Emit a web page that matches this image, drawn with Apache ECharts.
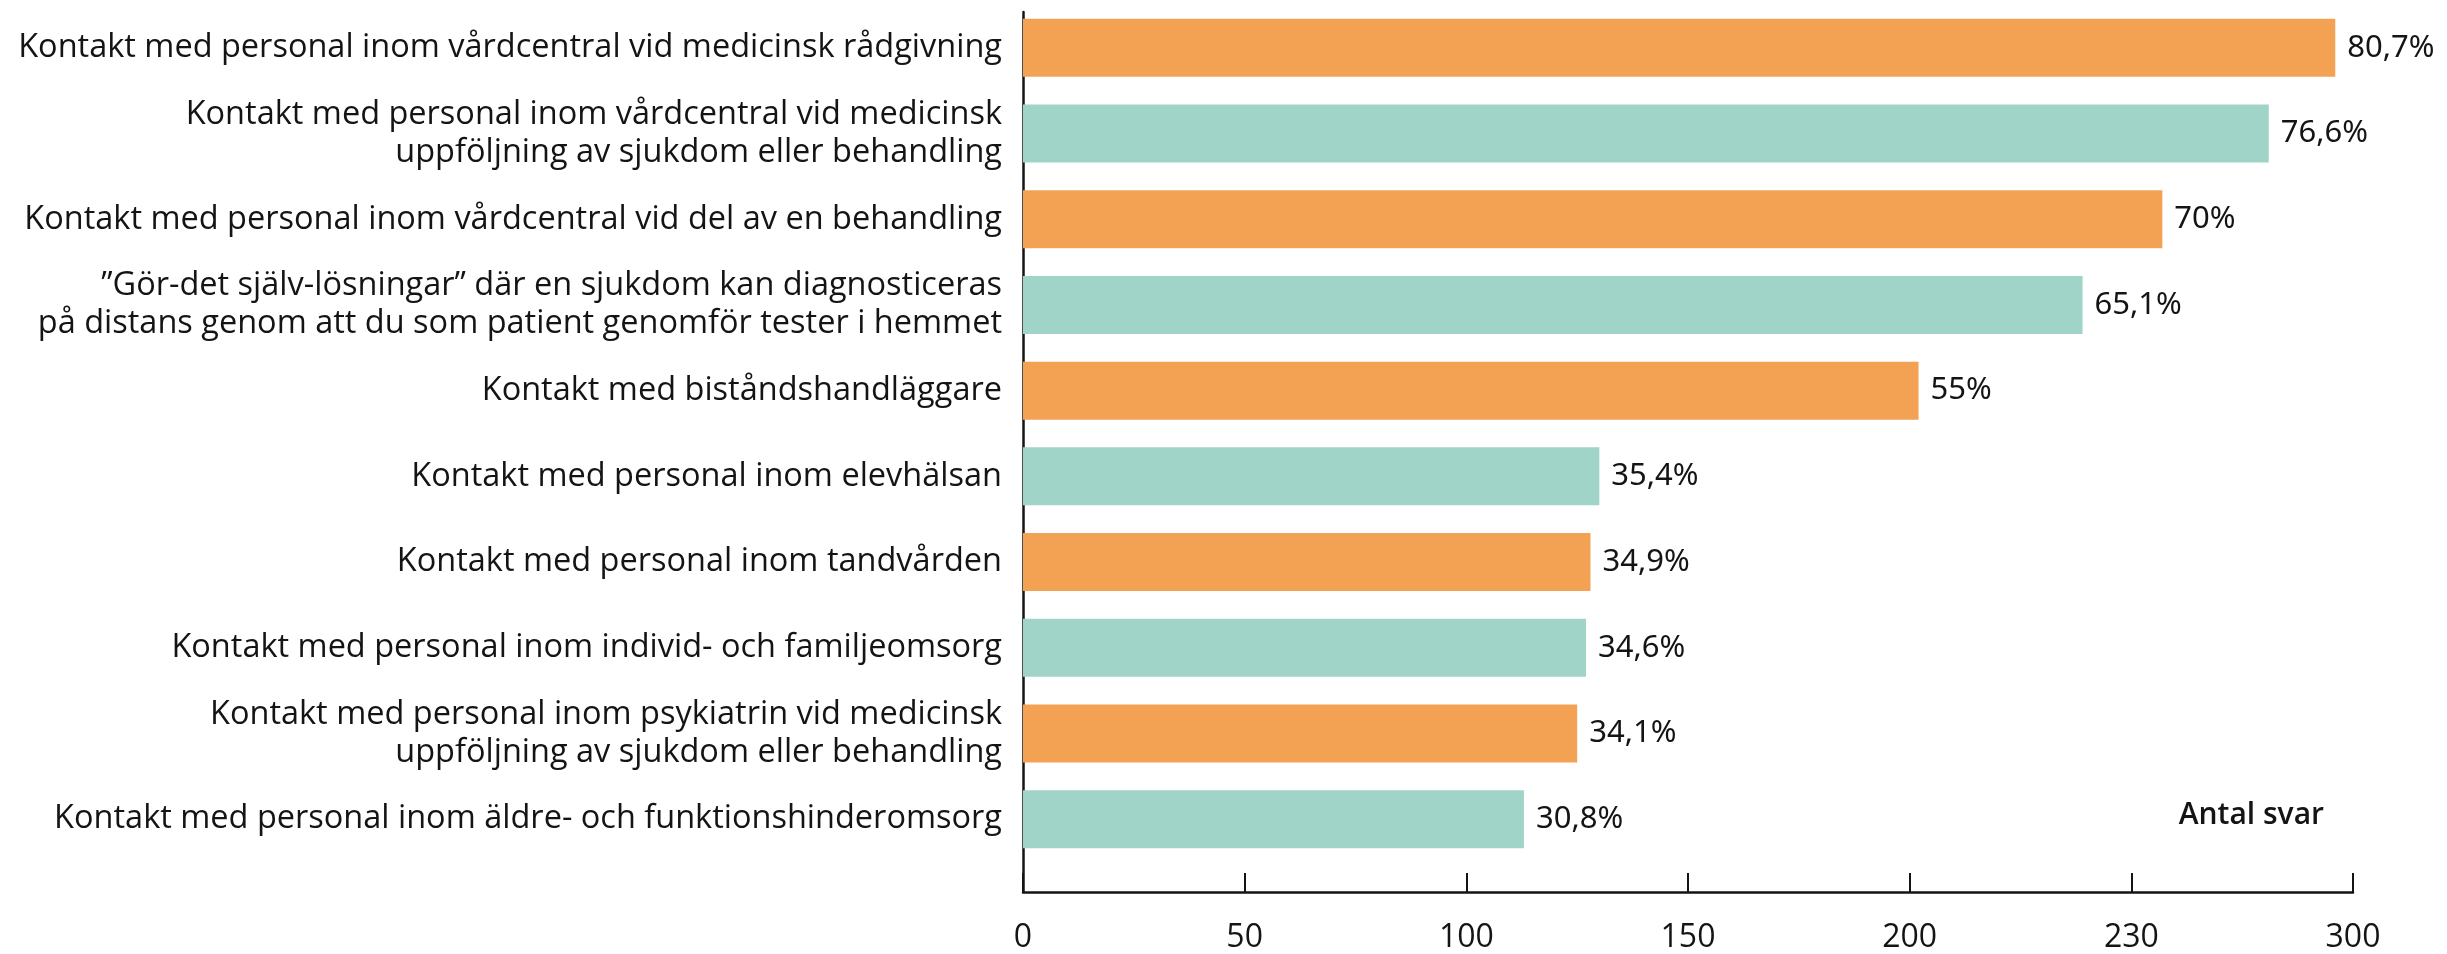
<!DOCTYPE html>
<html>
<head>
<meta charset="utf-8">
<script src="https://cdn.jsdelivr.net/npm/echarts@6/dist/echarts.min.js"></script>
<style>
  html, body { margin: 0; padding: 0; background: #fff; }
  #chart { width: 2447px; height: 954px; }
</style>
</head>
<body>
<div id="chart"></div>
<script>
// Categories, top to bottom
const categories = [
  "Kontakt med personal inom vårdcentral vid medicinsk rådgivning",
  "Kontakt med personal inom vårdcentral vid medicinsk\nuppföljning av sjukdom eller behandling",
  "Kontakt med personal inom vårdcentral vid del av en behandling",
  "\u201dGör-det själv-lösningar\u201d där en sjukdom kan diagnosticeras\npå distans genom att du som patient genomför tester i hemmet",
  "Kontakt med biståndshandläggare",
  "Kontakt med personal inom elevhälsan",
  "Kontakt med personal inom tandvården",
  "Kontakt med personal inom individ- och familjeomsorg",
  "Kontakt med personal inom psykiatrin vid medicinsk\nuppföljning av sjukdom eller behandling",
  "Kontakt med personal inom äldre- och funktionshinderomsorg"
];

// Number of answers (bar length)
const answers = [296, 281, 257, 239, 202, 130, 128, 127, 125, 113];

// Share shown as bar label
const percentLabels = ["80,7%", "76,6%", "70%", "65,1%", "55%", "35,4%", "34,9%", "34,6%", "34,1%", "30,8%"];

// x-axis tick labels (as printed, at 0, 50, ... 300)
const tickLabels = ["0", "50", "100", "150", "200", "230", "300"];

const ORANGE = "#F3A254";
const TEAL = "#A0D4C8";
const TEXT = "#141414";
const FONT = "'Open Sans', 'Noto Sans', sans-serif";

const chart = echarts.init(document.getElementById("chart"), null, { renderer: "canvas" });

chart.setOption({
  animation: false,
  backgroundColor: "#fff",
  title: {
    text: "Antal svar",
    right: 123,
    top: 800,
    padding: 0,
    textStyle: { fontFamily: FONT, fontSize: 30, fontWeight: 600, color: TEXT }
  },
  grid: [
    // bars + category labels
    { left: 1023, right: 94, top: 5, height: 857 },
    // axis lines + value ticks
    { left: 1023, right: 94, top: 12, bottom: 59 }
  ],
  xAxis: [
    {
      gridIndex: 0,
      type: "value",
      min: 0,
      max: 300,
      show: false
    },
    {
      gridIndex: 1,
      type: "value",
      min: 0,
      max: 300,
      interval: 50,
      axisLine: { show: true, lineStyle: { color: TEXT, width: 2.5 } },
      axisTick: { show: true, inside: true, length: 19, lineStyle: { color: TEXT, width: 2 } },
      splitLine: { show: false },
      axisLabel: {
        margin: 30,
        fontFamily: FONT,
        fontSize: 32,
        color: TEXT,
        formatter: (v) => tickLabels[Math.round(v / 50)] ?? ""
      }
    }
  ],
  yAxis: [
    {
      gridIndex: 0,
      type: "category",
      inverse: true,
      data: categories,
      axisLine: { show: false },
      axisTick: { show: false },
      axisLabel: {
        margin: 21,
        fontFamily: FONT,
        fontSize: 32.5,
        lineHeight: 38,
        color: TEXT,
        align: "right"
      }
    },
    {
      gridIndex: 1,
      type: "value",
      min: 0,
      max: 1,
      axisLine: { show: true, lineStyle: { color: TEXT, width: 2.5 } },
      axisTick: { show: false },
      axisLabel: { show: false },
      splitLine: { show: false }
    }
  ],
  series: [
    {
      type: "bar",
      xAxisIndex: 0,
      yAxisIndex: 0,
      data: answers,
      barWidth: 58,
      itemStyle: {
        color: (p) => (p.dataIndex % 2 === 0 ? ORANGE : TEAL)
      },
      label: {
        show: true,
        position: "right",
        distance: 12,
        fontFamily: "'Noto Sans', sans-serif",
        fontSize: 31,
        color: TEXT,
        formatter: (p) => percentLabels[p.dataIndex]
      }
    }
  ]
});
</script>
</body>
</html>
